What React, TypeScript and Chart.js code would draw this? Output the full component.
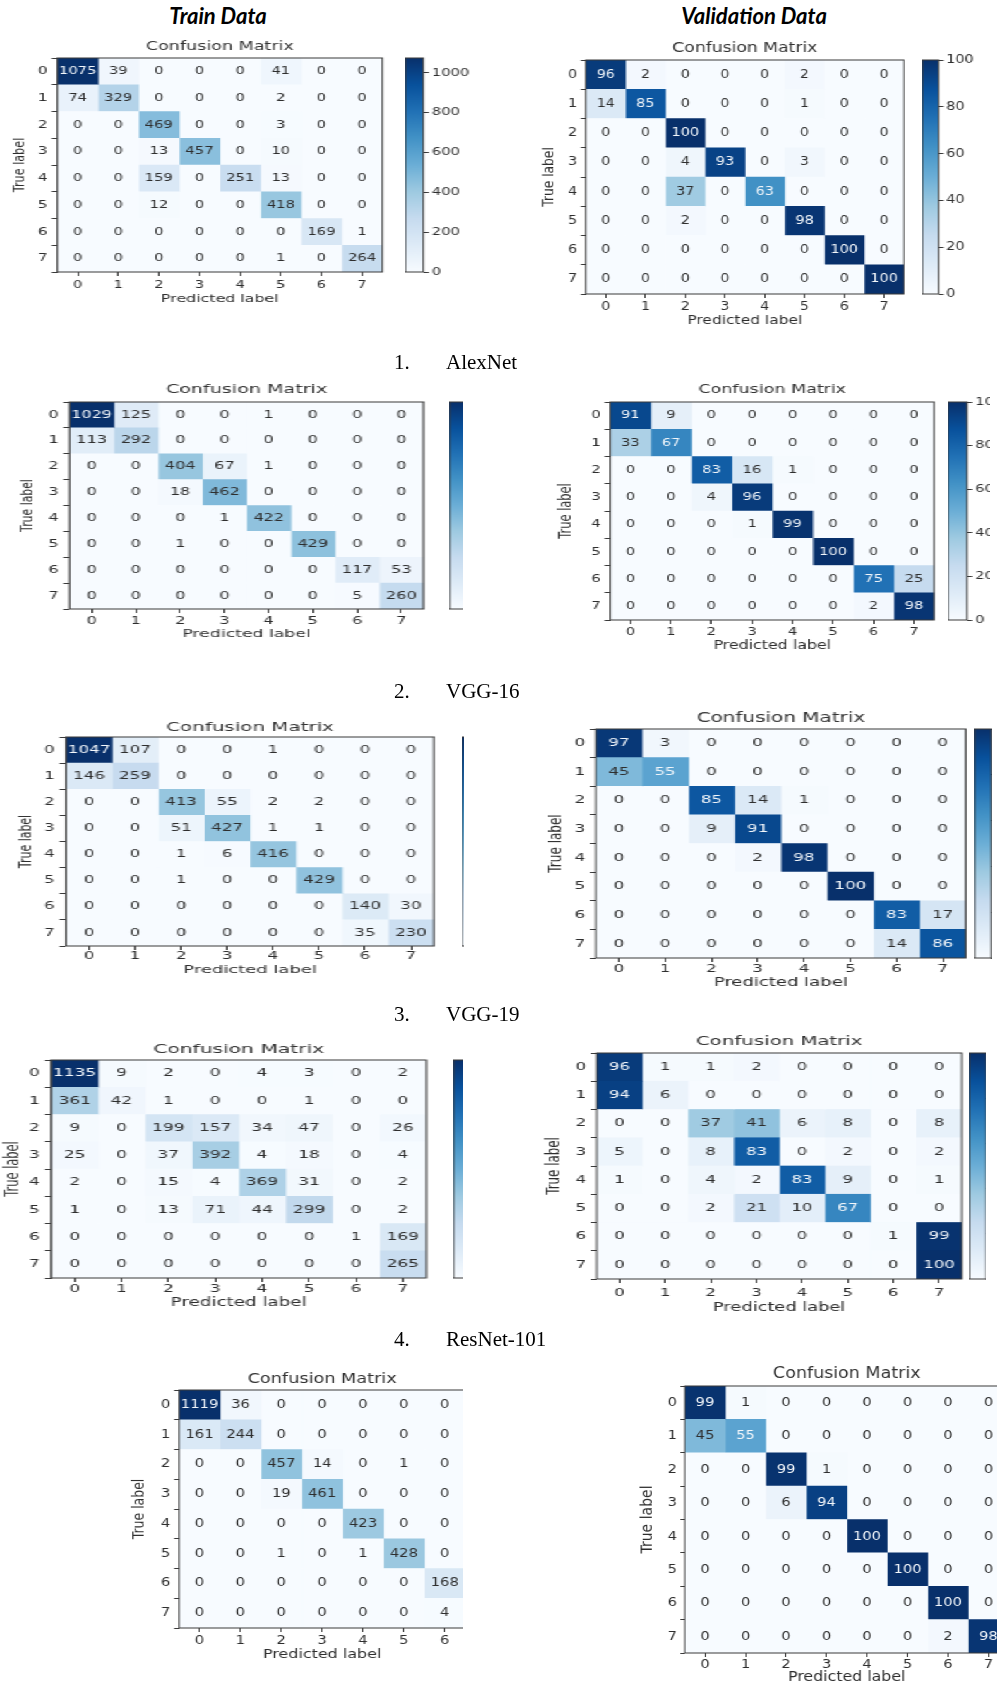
import React, { useEffect, useRef } from "react";
import { Chart, registerables } from "chart.js";

Chart.register(...registerables);

// ---------- data ----------
const ROW_LABELS = ["0", "1", "2", "3", "4", "5", "6", "7"];
const COL_TICKS_8 = [0, 1, 2, 3, 4, 5, 6, 7];
const COL_TICKS_7 = [0, 1, 2, 3, 4, 5, 6];
const TRAIN_CB_TICKS = [0, 200, 400, 600, 800, 1000];
const VAL_CB_TICKS = [0, 20, 40, 60, 80, 100];

const alexnetTrain = [
  [1075, 39, 0, 0, 0, 41, 0, 0],
  [74, 329, 0, 0, 0, 2, 0, 0],
  [0, 0, 469, 0, 0, 3, 0, 0],
  [0, 0, 13, 457, 0, 10, 0, 0],
  [0, 0, 159, 0, 251, 13, 0, 0],
  [0, 0, 12, 0, 0, 418, 0, 0],
  [0, 0, 0, 0, 0, 0, 169, 1],
  [0, 0, 0, 0, 0, 1, 0, 264],
];
const alexnetVal = [
  [96, 2, 0, 0, 0, 2, 0, 0],
  [14, 85, 0, 0, 0, 1, 0, 0],
  [0, 0, 100, 0, 0, 0, 0, 0],
  [0, 0, 4, 93, 0, 3, 0, 0],
  [0, 0, 37, 0, 63, 0, 0, 0],
  [0, 0, 2, 0, 0, 98, 0, 0],
  [0, 0, 0, 0, 0, 0, 100, 0],
  [0, 0, 0, 0, 0, 0, 0, 100],
];
const vgg16Train = [
  [1029, 125, 0, 0, 1, 0, 0, 0],
  [113, 292, 0, 0, 0, 0, 0, 0],
  [0, 0, 404, 67, 1, 0, 0, 0],
  [0, 0, 18, 462, 0, 0, 0, 0],
  [0, 0, 0, 1, 422, 0, 0, 0],
  [0, 0, 1, 0, 0, 429, 0, 0],
  [0, 0, 0, 0, 0, 0, 117, 53],
  [0, 0, 0, 0, 0, 0, 5, 260],
];
const vgg16Val = [
  [91, 9, 0, 0, 0, 0, 0, 0],
  [33, 67, 0, 0, 0, 0, 0, 0],
  [0, 0, 83, 16, 1, 0, 0, 0],
  [0, 0, 4, 96, 0, 0, 0, 0],
  [0, 0, 0, 1, 99, 0, 0, 0],
  [0, 0, 0, 0, 0, 100, 0, 0],
  [0, 0, 0, 0, 0, 0, 75, 25],
  [0, 0, 0, 0, 0, 0, 2, 98],
];
const vgg19Train = [
  [1047, 107, 0, 0, 1, 0, 0, 0],
  [146, 259, 0, 0, 0, 0, 0, 0],
  [0, 0, 413, 55, 2, 2, 0, 0],
  [0, 0, 51, 427, 1, 1, 0, 0],
  [0, 0, 1, 6, 416, 0, 0, 0],
  [0, 0, 1, 0, 0, 429, 0, 0],
  [0, 0, 0, 0, 0, 0, 140, 30],
  [0, 0, 0, 0, 0, 0, 35, 230],
];
const vgg19Val = [
  [97, 3, 0, 0, 0, 0, 0, 0],
  [45, 55, 0, 0, 0, 0, 0, 0],
  [0, 0, 85, 14, 1, 0, 0, 0],
  [0, 0, 9, 91, 0, 0, 0, 0],
  [0, 0, 0, 2, 98, 0, 0, 0],
  [0, 0, 0, 0, 0, 100, 0, 0],
  [0, 0, 0, 0, 0, 0, 83, 17],
  [0, 0, 0, 0, 0, 0, 14, 86],
];
const resnetTrain = [
  [1135, 9, 2, 0, 4, 3, 0, 2],
  [361, 42, 1, 0, 0, 1, 0, 0],
  [9, 0, 199, 157, 34, 47, 0, 26],
  [25, 0, 37, 392, 4, 18, 0, 4],
  [2, 0, 15, 4, 369, 31, 0, 2],
  [1, 0, 13, 71, 44, 299, 0, 2],
  [0, 0, 0, 0, 0, 0, 1, 169],
  [0, 0, 0, 0, 0, 0, 0, 265],
];
const resnetVal = [
  [96, 1, 1, 2, 0, 0, 0, 0],
  [94, 6, 0, 0, 0, 0, 0, 0],
  [0, 0, 37, 41, 6, 8, 0, 8],
  [5, 0, 8, 83, 0, 2, 0, 2],
  [1, 0, 4, 2, 83, 9, 0, 1],
  [0, 0, 2, 21, 10, 67, 0, 0],
  [0, 0, 0, 0, 0, 0, 1, 99],
  [0, 0, 0, 0, 0, 0, 0, 100],
];
// fifth model: train image is cropped after column 6
const model5Train = [
  [1119, 36, 0, 0, 0, 0, 0],
  [161, 244, 0, 0, 0, 0, 0],
  [0, 0, 457, 14, 0, 1, 0],
  [0, 0, 19, 461, 0, 0, 0],
  [0, 0, 0, 0, 423, 0, 0],
  [0, 0, 1, 0, 1, 428, 0],
  [0, 0, 0, 0, 0, 0, 168],
  [0, 0, 0, 0, 0, 0, 4],
];
const model5Val = [
  [99, 1, 0, 0, 0, 0, 0, 0],
  [45, 55, 0, 0, 0, 0, 0, 0],
  [0, 0, 99, 1, 0, 0, 0, 0],
  [0, 0, 6, 94, 0, 0, 0, 0],
  [0, 0, 0, 0, 100, 0, 0, 0],
  [0, 0, 0, 0, 0, 100, 0, 0],
  [0, 0, 0, 0, 0, 0, 100, 0],
  [0, 0, 0, 0, 0, 0, 2, 98],
];

const CAPTION_NUMS = ["1.", "2.", "3.", "4."];
const CAPTION_NAMES = ["AlexNet", "VGG-16", "VGG-19", "ResNet-101"];

// ---------- layout (page pixels) ----------
type PanelCfg = {
  m: number[][];
  cols: number[];
  cb: number[];
  L: number; R: number; T: number; B: number;
  titleY: number; ylabX: number; xtickY: number; xlabY: number;
  cbL: number; cbR: number; clipL: number; clipR: number;
};

const PANELS: PanelCfg[] = [
  { m: alexnetTrain, cols: COL_TICKS_8, cb: TRAIN_CB_TICKS, L: 57, R: 382, T: 58, B: 272, titleY: 47, ylabX: 19, xtickY: 285, xlabY: 299, cbL: 405, cbR: 423, clipL: 0, clipR: 472 },
  { m: alexnetVal, cols: COL_TICKS_8, cb: VAL_CB_TICKS, L: 586, R: 904, T: 60, B: 294, titleY: 48, ylabX: 549, xtickY: 307, xlabY: 321, cbL: 923, cbR: 939, clipL: 480, clipR: 997 },
  { m: vgg16Train, cols: COL_TICKS_8, cb: TRAIN_CB_TICKS, L: 70, R: 424, T: 402, B: 609, titleY: 390, ylabX: 29, xtickY: 621, xlabY: 634, cbL: 450, cbR: 467, clipL: 0, clipR: 463 },
  { m: vgg16Val, cols: COL_TICKS_8, cb: VAL_CB_TICKS, L: 610, R: 934, T: 402, B: 620, titleY: 390, ylabX: 566, xtickY: 632, xlabY: 646, cbL: 948, cbR: 967, clipL: 480, clipR: 990 },
  { m: vgg19Train, cols: COL_TICKS_8, cb: TRAIN_CB_TICKS, L: 66, R: 434, T: 737, B: 946, titleY: 728, ylabX: 27, xtickY: 956, xlabY: 970, cbL: 461, cbR: 478, clipL: 0, clipR: 464 },
  { m: vgg19Val, cols: COL_TICKS_8, cb: VAL_CB_TICKS, L: 596, R: 966, T: 729, B: 958, titleY: 719, ylabX: 557, xtickY: 969, xlabY: 983, cbL: 975, cbR: 992, clipL: 480, clipR: 992 },
  { m: resnetTrain, cols: COL_TICKS_8, cb: TRAIN_CB_TICKS, L: 51, R: 426, T: 1060, B: 1278, titleY: 1050, ylabX: 13, xtickY: 1289, xlabY: 1303, cbL: 453, cbR: 470, clipL: 0, clipR: 463 },
  { m: resnetVal, cols: COL_TICKS_8, cb: VAL_CB_TICKS, L: 597, R: 962, T: 1053, B: 1279, titleY: 1042, ylabX: 555, xtickY: 1293, xlabY: 1308, cbL: 970, cbR: 987, clipL: 480, clipR: 986 },
  { m: model5Train, cols: COL_TICKS_7, cb: TRAIN_CB_TICKS, L: 179, R: 465, T: 1390, B: 1628, titleY: 1379, ylabX: 139, xtickY: 1641, xlabY: 1655, cbL: 490, cbR: 507, clipL: 0, clipR: 463 },
  { m: model5Val, cols: COL_TICKS_8, cb: VAL_CB_TICKS, L: 685, R: 1009, T: 1386, B: 1653, titleY: 1374, ylabX: 648, xtickY: 1663, xlabY: 1677, cbL: 1030, cbR: 1047, clipL: 480, clipR: 997 },
];

const CAPTION_Y = [362, 691, 1014, 1339];

// ---------- styling ----------
const FAMILY = "'DejaVu Sans', sans-serif";
const FRAME = "#3a3a3a";
const TXT = "#2e2e2e";
const BLUES = ["#f7fbff", "#deebf7", "#c6dbef", "#9ecae1", "#6baed6", "#4292c6", "#2171b5", "#08519c", "#08306b"];
const BLUES_RGB = BLUES.map((h) => [1, 3, 5].map((i) => parseInt(h.slice(i, i + 2), 16)));

function blues(t: number) {
  const tt = Math.max(0, Math.min(1, t));
  const p = tt * 8;
  const i = Math.min(7, Math.floor(p));
  const f = p - i;
  const a = BLUES_RGB[i];
  const b = BLUES_RGB[i + 1];
  const c = a.map((v, j) => Math.round(v + (b[j] - v) * f));
  return `rgb(${c[0]},${c[1]},${c[2]})`;
}

const framePlugin = {
  id: "frame",
  afterDatasetsDraw(chart: any) {
    const { ctx, chartArea: a } = chart;
    ctx.save();
    ctx.strokeStyle = FRAME;
    ctx.lineWidth = 1;
    ctx.strokeRect(a.left, a.top, a.right - a.left, a.bottom - a.top);
    ctx.restore();
  },
};

function geom(p: PanelCfg) {
  const nC = p.cols.length;
  const ph = p.B - p.T;
  const c = ph / 8;
  const cellW = (p.R - p.L) / nC;
  const k = (0.93 * cellW) / c;
  const pw0 = (p.R - p.L) / k;
  const fT = 0.465 * c;
  const fN = 0.39 * c;
  const fK = 0.39 * c;
  const fL = 0.42 * c;
  const lhT = fT * 1.2;
  const lhL = fL * 1.2;
  const lhK = fK * 1.2;
  const g = p.T - p.titleY;
  const A = Math.ceil(g + lhT / 2 + 2);
  const tPadTop = A - g - lhT / 2;
  const tPadBot = Math.max(0, g - lhT / 2);
  const dY = p.L - p.ylabX;
  const yw = dY / k + lhL / 2 + 2;
  const dxl = p.xlabY - p.B;
  const xh = Math.ceil(dxl + lhL / 2 + 2);
  const xPadBot = xh - dxl - lhL / 2;
  const xTickPad = Math.max(0, p.xtickY - p.B - 4 - lhK / 2);
  const W = Math.ceil(yw + pw0) + 4;
  const H = A + ph + xh;
  const cbx0 = yw + (p.cbL - p.L) / k;
  const cbw0 = (p.cbR - p.cbL) / k;
  const cbW = Math.ceil(cbw0 + 50);
  return { nC, ph, c, k, pw0, fT, fN, fK, fL, A, tPadTop, tPadBot, yw, xh, xPadBot, xTickPad, W, H, cbx0, cbw0, cbW,
    left: p.L - yw * k, top: p.T - A };
}

function Panel({ p }: { p: PanelCfg }) {
  const mRef = useRef<HTMLCanvasElement>(null);
  const cbRef = useRef<HTMLCanvasElement>(null);
  const G = geom(p);
  const showCb = p.cbL < p.clipR;

  useEffect(() => {
    const charts: Chart[] = [];
    const m = p.m;
    const vmax = Math.max(...m.map((r) => Math.max(...r)));
    const thresh = vmax / 2;
    const datasets = p.cols.map((col) => ({
      data: m.map(() => [col - 0.5, col + 0.5]),
      backgroundColor: m.map((row) => blues(row[col] / vmax)),
      borderWidth: 0,
      grouped: false,
      categoryPercentage: 1,
      barPercentage: 1,
    }));
    const textPlugin = {
      id: "cellText",
      afterDatasetsDraw(chart: any) {
        const { ctx } = chart;
        const xs = chart.scales.x;
        const ys = chart.scales.y;
        ctx.save();
        ctx.font = `${G.fN}px ${FAMILY}`;
        ctx.textAlign = "center";
        ctx.textBaseline = "middle";
        m.forEach((row, r) => {
          p.cols.forEach((col) => {
            const v = row[col];
            ctx.fillStyle = v > thresh ? "#f3f7fb" : TXT;
            ctx.fillText(String(v), xs.getPixelForValue(col), ys.getPixelForValue(r));
          });
        });
        ctx.restore();
      },
    };
    const tickFont = { size: G.fK, family: FAMILY };
    const labFont = { size: G.fL, family: FAMILY };
    charts.push(
      new Chart(mRef.current as HTMLCanvasElement, {
        type: "bar",
        data: { labels: ROW_LABELS, datasets: datasets as any },
        options: {
          indexAxis: "y",
          animation: false,
          responsive: false,
          maintainAspectRatio: false,
          events: [],
          layout: { padding: { top: 0, left: 0, bottom: 0, right: G.W - G.yw - G.pw0 } },
          plugins: {
            legend: { display: false },
            tooltip: { enabled: false },
            title: {
              display: true,
              text: "Confusion Matrix",
              fullSize: false,
              color: "#333",
              font: { size: G.fT, family: FAMILY, weight: "normal" },
              padding: { top: G.tPadTop, bottom: G.tPadBot },
            },
          },
          scales: {
            x: {
              type: "linear",
              min: -0.5,
              max: p.cols.length - 0.5,
              afterBuildTicks: (s: any) => {
                s.ticks = p.cols.map((v) => ({ value: v }));
              },
              afterFit: (s: any) => {
                s.height = G.xh;
              },
              ticks: { color: TXT, font: tickFont, padding: G.xTickPad, maxRotation: 0, autoSkip: false, callback: (v: any) => String(v) },
              grid: { display: true, drawOnChartArea: false, drawTicks: true, tickLength: 4, color: FRAME },
              border: { display: false },
              title: { display: true, text: "Predicted label", color: TXT, font: labFont, padding: { top: 0, bottom: G.xPadBot } },
            },
            y: {
              type: "category",
              afterFit: (s: any) => {
                s.width = G.yw;
              },
              ticks: { color: TXT, font: tickFont, padding: 3, autoSkip: false },
              grid: { display: true, drawOnChartArea: false, drawTicks: true, tickLength: 4, color: FRAME },
              border: { display: false },
              title: { display: true, text: "True label", color: TXT, font: labFont, padding: { top: 2, bottom: 0 } },
            },
          },
        } as any,
        plugins: [textPlugin, framePlugin],
      })
    );
    if (showCb && cbRef.current) {
      charts.push(
        new Chart(cbRef.current, {
          type: "bar",
          data: {
            labels: [""],
            datasets: [
              {
                data: [[0, vmax]] as any,
                backgroundColor: (ctx: any) => {
                  const ch = ctx.chart;
                  const a = ch.chartArea;
                  if (!a) return BLUES[4];
                  const grd = ch.ctx.createLinearGradient(0, a.bottom, 0, a.top);
                  BLUES.forEach((col, i) => grd.addColorStop(i / (BLUES.length - 1), col));
                  return grd;
                },
                borderWidth: 0,
                categoryPercentage: 1,
                barPercentage: 1,
              },
            ],
          },
          options: {
            animation: false,
            responsive: false,
            maintainAspectRatio: false,
            events: [],
            layout: { padding: { top: G.A, bottom: G.xh, left: 0, right: 0 } },
            plugins: { legend: { display: false }, tooltip: { enabled: false } },
            scales: {
              x: { display: false },
              y: {
                position: "right",
                min: 0,
                max: vmax,
                afterBuildTicks: (s: any) => {
                  s.ticks = p.cb.filter((v) => v <= vmax).map((v) => ({ value: v }));
                },
                afterFit: (s: any) => {
                  s.width = G.cbW - G.cbw0;
                },
                ticks: { color: TXT, font: tickFont, padding: 2, callback: (v: any) => String(v) },
                grid: { display: true, drawOnChartArea: false, drawTicks: true, tickLength: 4, color: FRAME },
                border: { display: false },
              },
            },
          } as any,
          plugins: [framePlugin],
        })
      );
    }
    return () => charts.forEach((c) => c.destroy());
  }, []);

  return (
    <div style={{ position: "absolute", left: p.clipL, top: 0, width: p.clipR - p.clipL, height: 1688, overflow: "hidden" }}>
      <div
        style={{
          position: "absolute",
          left: G.left - p.clipL,
          top: G.top,
          width: Math.max(G.W, G.cbx0 + G.cbW),
          height: G.H,
          transform: `scaleX(${G.k})`,
          transformOrigin: "0 0",
        }}
      >
        <canvas ref={mRef} width={G.W} height={G.H} style={{ position: "absolute", left: 0, top: 0, width: G.W, height: G.H }} />
        {showCb && (
          <canvas ref={cbRef} width={G.cbW} height={G.H} style={{ position: "absolute", left: G.cbx0, top: 0, width: G.cbW, height: G.H }} />
        )}
      </div>
    </div>
  );
}

export default function App() {
  return (
    <div style={{ position: "absolute", left: 0, top: 0, width: 997, height: 1688, overflow: "hidden", background: "#ffffff" }}>
      <div style={{ position: "absolute", left: 118, width: 200, top: 2, textAlign: "center", font: "italic 700 22px Lato, 'Open Sans', sans-serif", color: "#000" }}>
        Train Data
      </div>
      <div style={{ position: "absolute", left: 654, width: 200, top: 2, textAlign: "center", font: "italic 700 22px Lato, 'Open Sans', sans-serif", color: "#000" }}>
        Validation Data
      </div>
      {PANELS.map((p, i) => (
        <Panel key={i} p={p} />
      ))}
      {CAPTION_NUMS.map((n, i) => (
        <div key={n} style={{ position: "absolute", top: CAPTION_Y[i] - 13, left: 394, font: "21px 'Liberation Serif', serif", color: "#000", whiteSpace: "nowrap", lineHeight: "26px" }}>
          <span>{n}</span>
          <span style={{ position: "absolute", left: 52 }}>{CAPTION_NAMES[i]}</span>
        </div>
      ))}
    </div>
  );
}
